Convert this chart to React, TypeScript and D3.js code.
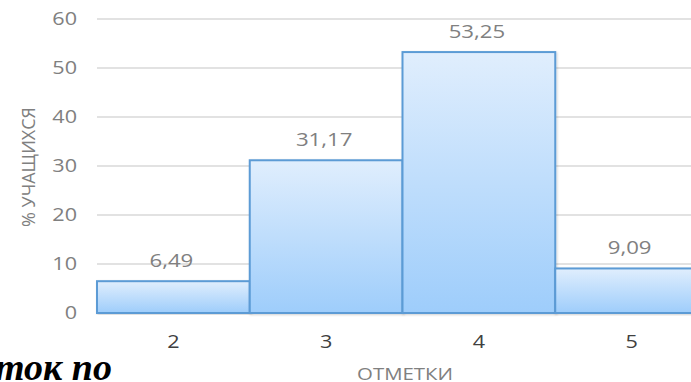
import React from 'react';
import * as d3 from 'd3';

const grades = ['2', '3', '4', '5'];
const percents = [6.49, 31.17, 53.25, 9.09];
const labels = ['6,49', '31,17', '53,25', '9,09'];
const yTicks = [0, 10, 20, 30, 40, 50, 60];

const W = 691;
const H = 382;
const SX = 1.2; // horizontal stretch of the texts in the source image

const App: React.FC = () => {
  const x = d3.scaleBand().domain(grades).range([97, 708]).padding(0);
  const y = d3.scaleLinear().domain([0, 60]).range([313, 19]);
  const font = '"Open Sans", "DejaVu Sans", sans-serif';

  const Label = (props: {
    x: number;
    y: number;
    anchor: 'start' | 'middle' | 'end';
    size: number;
    fill: string;
    dy?: string;
    children: React.ReactNode;
  }) => (
    <text
      transform={`translate(${props.x},${props.y}) scale(${SX},1)`}
      dy={props.dy}
      textAnchor={props.anchor}
      fontFamily={font}
      fontSize={props.size}
      fill={props.fill}
    >
      {props.children}
    </text>
  );

  return (
    <svg
      width={W}
      height={H}
      style={{ position: 'absolute', left: 0, top: 0, background: '#fff' }}
    >
      <defs>
        <linearGradient id="barFill" x1="0" y1="0" x2="0" y2="1">
          <stop offset="0%" stopColor="#e0eefd" />
          <stop offset="100%" stopColor="#9ecdfb" />
        </linearGradient>
        <filter id="shadow" x="-5%" y="-5%" width="110%" height="110%">
          <feDropShadow dx="1" dy="1" stdDeviation="1" floodColor="#000" floodOpacity="0.18" />
        </filter>
      </defs>

      {/* gridlines */}
      {yTicks.map((t) => (
        <line key={t} x1={97} x2={W} y1={y(t)} y2={y(t)} stroke="#d9d9d9" strokeWidth={1.3} />
      ))}

      {/* y tick labels */}
      {yTicks.map((t) => (
        <Label key={'yt' + t} x={77} y={y(t)} dy="0.36em" anchor="end" size={18} fill="#808080">
          {t}
        </Label>
      ))}

      {/* bars */}
      {grades.map((g, i) => (
        <rect
          key={'b' + g}
          x={x(g)!}
          y={y(percents[i])}
          width={x.bandwidth()}
          height={y(0) - y(percents[i])}
          fill="url(#barFill)"
          stroke="#5b9bd5"
          strokeWidth={2}
          filter="url(#shadow)"
        />
      ))}

      {/* data labels */}
      {grades.map((g, i) => (
        <Label
          key={'l' + g}
          x={x(g)! + x.bandwidth() / 2 - 2}
          y={y(percents[i]) - 14}
          anchor="middle"
          size={18.5}
          fill="#808080"
        >
          {labels[i]}
        </Label>
      ))}

      {/* x tick labels */}
      {grades.map((g) => (
        <Label
          key={'x' + g}
          x={x(g)! + x.bandwidth() / 2}
          y={341.5}
          dy="0.36em"
          anchor="middle"
          size={18}
          fill="#404040"
        >
          {g}
        </Label>
      ))}

      {/* axis titles */}
      <Label x={405} y={380} anchor="middle" size={17} fill="#808080">
        ОТМЕТКИ
      </Label>
      <text
        transform={`translate(29,167) rotate(-90)`}
        dy="0.36em"
        textAnchor="middle"
        fontFamily={font}
        fontSize={18}
        fill="#808080"
      >
        % УЧАЩИХСЯ
      </text>

      {/* stray document text */}
      <text
        x={-5}
        y={380}
        fontFamily='"Liberation Serif", "Times New Roman", serif'
        fontStyle="italic"
        fontWeight="bold"
        fontSize={38}
        fill="#000"
      >
        ток по
      </text>
    </svg>
  );
};

export default App;
